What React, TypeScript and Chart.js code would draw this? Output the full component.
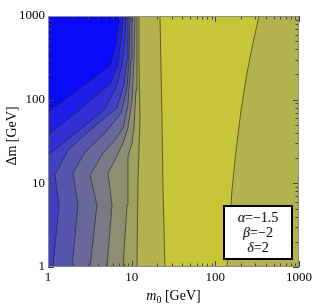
import React, { useEffect, useRef } from 'react';
import { Chart, registerables } from 'chart.js';

Chart.register(...registerables);

// Axis ticks (log10 scales)
const xTickValues = [1, 10, 100, 1000];
const yTickValues = [1, 10, 100, 1000];
const X_MIN = 1, X_MAX = 1000, Y_MIN = 1, Y_MAX = 1000;

// Contour lines as [m0 (GeV), Δm (GeV)] points, ordered from the blue corner outwards
const contour0: [number, number][] = [[1, 71], [5.5, 253], [6.5, 460], [7.25, 1000]];
const contour1: [number, number][] = [[1, 38], [2.35, 75], [5.66, 158], [6.87, 274], [7.46, 517], [7.88, 1000]];
const contour2: [number, number][] = [[1, 21.8], [4.67, 75], [6.5, 138], [7.66, 260], [8.32, 517], [8.56, 1000]];
const contour3: [number, number][] = [[1.148, 1], [1.354, 5.51], [1.212, 12.6], [1.734, 25], [3.65, 48.4], [6.68, 79.5], [8.1, 150], [8.8, 298], [9.04, 1000]];
const contour4: [number, number][] = [[1.935, 1], [2.28, 5.51], [1.99, 13.3], [2.77, 23.7], [4.8, 40], [7.46, 69.3], [8.8, 138], [9.29, 298], [9.55, 1000]];
const contour5: [number, number][] = [[3.18, 1], [3.85, 5.51], [3.18, 12.6], [4.54, 23], [6.32, 33], [7.88, 45.9], [9.04, 86.4], [9.82, 298], [10.09, 1000]];
const contour6: [number, number][] = [[5.07, 1], [5.82, 5.51], [5.21, 13.3], [6.32, 19], [7.88, 30.3], [9.04, 45.9], [10.09, 99], [10.66, 298], [10.96, 1000]];
const contour7: [number, number][] = [[7.88, 1], [8.8, 5.51], [9.04, 13.3], [9.04, 20.6], [10.09, 30.3], [10.66, 45.9], [11.27, 130], [11.58, 1000]];
const contour8: [number, number][] = [[11.58, 1], [11.9, 10.96], [12.58, 57.1], [12.24, 298], [12.24, 1000]];
const contour9: [number, number][] = [[25, 1], [23.7, 8.32], [23, 67.4], [21.8, 1000]];
const contour10: [number, number][] = [[138, 1], [158, 8.32], [177, 25], [203, 75.2], [239, 208], [282, 476], [333, 1000]];

const contours = [contour0, contour1, contour2, contour3, contour4, contour5, contour6, contour7, contour8, contour9, contour10];

// Fill colour of each level (0 = blue corner, 10 = yellow)
const levelColors = [
  'rgb(10,10,250)',
  'rgb(30,30,232)',
  'rgb(48,48,212)',
  'rgb(64,64,198)',
  'rgb(86,86,174)',
  'rgb(104,104,154)',
  'rgb(122,122,134)',
  'rgb(142,142,114)',
  'rgb(160,160,95)',
  'rgb(180,178,78)',
  'rgb(198,198,56)',
];
// level on the far side of each contour
const levelAfterContour = [1, 2, 3, 4, 5, 6, 7, 8, 9, 10, 9];

const SERIF = '"Liberation Serif", "DejaVu Serif", serif';

function regionFor(c: [number, number][]) {
  const pts = c.map(([x, y]) => ({ x, y }));
  pts.push({ x: X_MAX, y: Y_MAX }, { x: X_MAX, y: Y_MIN });
  if (c[0][0] === X_MIN) pts.push({ x: X_MIN, y: Y_MIN });
  return pts;
}

const decorPlugin = {
  id: 'decor',
  afterDatasetsDraw(chart: any) {
    const { ctx, chartArea: a, scales } = chart;
    const xs = scales.x, ys = scales.y;
    ctx.save();
    ctx.strokeStyle = '#444';
    ctx.lineWidth = 1;
    for (let dec = 1; dec < 1000; dec *= 10) {
      for (let k = 1; k <= 10; k++) {
        const v = dec * k;
        const len = k === 1 || k === 10 ? 6 : 3.5;
        const px = Math.round(xs.getPixelForValue(v)) + 0.5;
        ctx.beginPath();
        ctx.moveTo(px, a.bottom); ctx.lineTo(px, a.bottom - len);
        ctx.moveTo(px, a.top); ctx.lineTo(px, a.top + len);
        ctx.stroke();
        const py = Math.round(ys.getPixelForValue(v)) + 0.5;
        ctx.beginPath();
        ctx.moveTo(a.left, py); ctx.lineTo(a.left + len, py);
        ctx.moveTo(a.right, py); ctx.lineTo(a.right - len, py);
        ctx.stroke();
      }
    }
    ctx.strokeStyle = '#8a8a8a';
    ctx.strokeRect(a.left + 0.5, a.top + 0.5, a.right - a.left - 1, a.bottom - a.top - 1);
    ctx.restore();
  },
  afterDraw(chart: any) {
    const { ctx, chartArea: a } = chart;
    ctx.save();
    ctx.fillStyle = '#000';
    ctx.textBaseline = 'alphabetic';
    // x title: m_0 [GeV]
    const fMain = `italic 14px ${SERIF}`;
    const fSub = `10px ${SERIF}`;
    const fReg = `14px ${SERIF}`;
    ctx.font = fMain; const w1 = ctx.measureText('m').width;
    ctx.font = fSub; const w2 = ctx.measureText('0').width;
    ctx.font = fReg; const w3 = ctx.measureText(' [GeV]').width;
    const total = w1 + w2 + w3;
    let x = (a.left + a.right) / 2 - total / 2;
    const yb = 300;
    ctx.textAlign = 'left';
    ctx.font = fMain; ctx.fillText('m', x, yb); x += w1;
    ctx.font = fSub; ctx.fillText('0', x, yb + 3); x += w2;
    ctx.font = fReg; ctx.fillText(' [GeV]', x, yb);
    // y title
    ctx.translate(16, 136);
    ctx.rotate(-Math.PI / 2);
    ctx.textAlign = 'center';
    ctx.font = fReg;
    ctx.fillText('\u0394m [GeV]', 0, 0);
    ctx.restore();
  },
};

export default function App() {
  const ref = useRef<HTMLCanvasElement | null>(null);

  useEffect(() => {
    if (!ref.current) return;
    const datasets: any[] = [];
    datasets.push({
      data: [{ x: X_MIN, y: Y_MIN }, { x: X_MAX, y: Y_MIN }, { x: X_MAX, y: Y_MAX }, { x: X_MIN, y: Y_MAX }],
      backgroundColor: levelColors[0],
      borderWidth: 0,
      fill: 'shape',
      pointRadius: 0,
      order: 100,
    });
    contours.forEach((c, i) => {
      datasets.push({
        data: regionFor(c),
        backgroundColor: levelColors[levelAfterContour[i]],
        borderWidth: 0,
        fill: 'shape',
        pointRadius: 0,
        order: 90 - i,
      });
    });
    contours.forEach((c) => {
      datasets.push({
        data: c.map(([x, y]) => ({ x, y })),
        borderColor: 'rgba(35,35,35,0.6)',
        borderWidth: 1,
        fill: false,
        pointRadius: 0,
        order: 1,
      });
    });

    const tickFont = { family: SERIF, size: 13 };
    const chart = new Chart(ref.current, {
      type: 'line',
      data: { datasets },
      options: {
        animation: false,
        responsive: false,
        maintainAspectRatio: false,
        events: [],
        layout: { padding: { top: 16, right: 13, left: 0, bottom: 0 } },
        plugins: { legend: { display: false }, tooltip: { enabled: false } },
        elements: { line: { tension: 0 }, point: { radius: 0 } },
        scales: {
          x: {
            type: 'logarithmic',
            min: X_MIN,
            max: X_MAX,
            grid: { display: false, drawTicks: false },
            border: { display: false },
            ticks: { autoSkip: false, maxRotation: 0, padding: 3, color: '#000', font: tickFont, callback: (v: any) => String(v) },
            afterBuildTicks: (s: any) => { s.ticks = xTickValues.map((v) => ({ value: v })); },
            afterFit: (s: any) => { s.height = 37; s.paddingLeft = 0; s.paddingRight = 0; },
          },
          y: {
            type: 'logarithmic',
            min: Y_MIN,
            max: Y_MAX,
            grid: { display: false, drawTicks: false },
            border: { display: false },
            ticks: { autoSkip: false, padding: 3, color: '#000', font: tickFont, callback: (v: any) => String(v) },
            afterBuildTicks: (s: any) => { s.ticks = yTickValues.map((v) => ({ value: v })); },
            afterFit: (s: any) => { s.width = 48; s.paddingTop = 0; s.paddingBottom = 0; },
          },
        },
      } as any,
      plugins: [decorPlugin],
    });
    return () => chart.destroy();
  }, []);

  const greek: React.CSSProperties = { fontStyle: 'italic' };
  return (
    <div style={{ position: 'absolute', left: 0, top: 0, width: 312, height: 304, background: '#fff' }}>
      <canvas ref={ref} width={312} height={304} style={{ display: 'block', width: 312, height: 304 }} />
      <div
        style={{
          position: 'absolute', left: 223, top: 205, width: 70, height: 55, boxSizing: 'border-box',
          border: '2px solid #000', background: '#fff', fontFamily: SERIF, fontSize: 14, lineHeight: '15px',
          textAlign: 'center', paddingTop: 3, color: '#000', whiteSpace: 'nowrap',
        }}
      >
        <div><span style={greek}>α</span>=−1.5</div>
        <div><span style={greek}>β</span>=−2</div>
        <div><span style={greek}>δ</span>=2</div>
      </div>
    </div>
  );
}
